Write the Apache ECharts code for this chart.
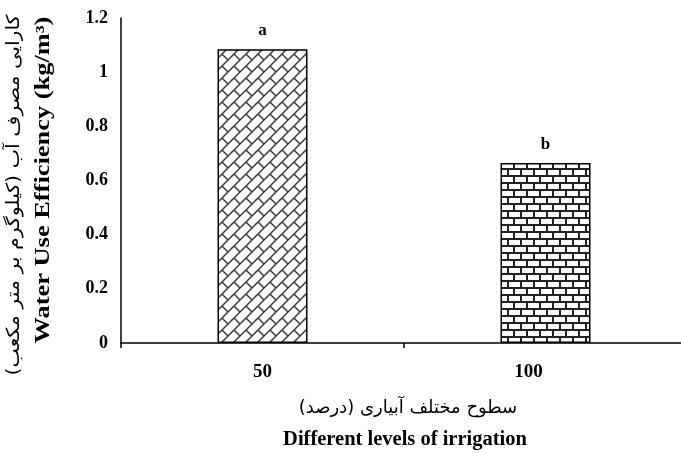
<!DOCTYPE html>
<html><head><meta charset="utf-8">
<script src="https://cdn.jsdelivr.net/npm/echarts@6/dist/echarts.min.js"></script>
<style>html,body{margin:0;padding:0;background:#fff}#c{width:681px;height:454px}</style>
</head><body><div id="c"></div>
<script>
const categories = ['50', '100'];
const values = [1.085, 0.665];
const letters = ['a', 'b'];
const yTicks = [0, 0.2, 0.4, 0.6, 0.8, 1, 1.2];
const xTitleFa = 'سطوح مختلف آبیاری (درصد)';
const xTitleEn = 'Different levels of irrigation';
const yTitleFa = 'کارایی مصرف آب (کیلوگرم بر متر مکعب)';
const yTitleEn = 'Water Use Efficiency (kg/m³)';

function diagBrick() {
  const s = 12, c = document.createElement('canvas');
  c.width = s; c.height = s;
  const g = c.getContext('2d');
  g.fillStyle = '#fff'; g.fillRect(0, 0, s, s);
  g.strokeStyle = '#3a3a3a'; g.lineWidth = 1.5;
  g.beginPath();
  g.moveTo(-2, s + 2); g.lineTo(s + 2, -2);
  g.moveTo(s / 2, s / 2); g.lineTo(s + 2, s + 2);
  g.moveTo(-2, -2); g.lineTo(0.5, 0.5);
  g.stroke();
  return c;
}
function hBrick() {
  const w = 13, h = 14, c = document.createElement('canvas');
  c.width = w; c.height = h;
  const g = c.getContext('2d');
  g.fillStyle = '#fff'; g.fillRect(0, 0, w, h);
  g.fillStyle = '#222';
  g.fillRect(0, 0, w, 2);
  g.fillRect(0, 7, w, 2);
  g.fillRect(0, 0, 2, 7);
  g.fillRect(6, 7, 2, 7);
  return c;
}
const patterns = [diagBrick(), hBrick()];

const chart = echarts.init(document.getElementById('c'));
const serif = "'Liberation Serif', 'Times New Roman', serif";
const fa = "'DejaVu Sans', sans-serif";
chart.setOption({
  animation: false,
  grid: { left: 121, top: 18, width: 566, height: 325, outerBoundsMode: 'none', containLabel: false },
  xAxis: {
    type: 'category', data: categories,
    axisLine: { lineStyle: { color: '#000', width: 1.5 } },
    axisTick: { show: true, length: 5, lineStyle: { color: '#000', width: 1.5 } },
    axisLabel: {
      color: '#000', fontFamily: serif, fontWeight: 'bold', fontSize: 19, margin: 20,
      formatter: v => (v === categories[1] ? '{s|' + v + '}' : '{n|' + v + '}'),
      rich: {
        n: { fontFamily: serif, fontWeight: 'bold', fontSize: 19, color: '#000' },
        s: { fontFamily: serif, fontWeight: 'bold', fontSize: 19, color: '#000', padding: [0, 34, 0, 0] }
      }
    }
  },
  yAxis: {
    type: 'value', min: 0, max: 1.2, interval: 0.2,
    splitLine: { show: false },
    axisLine: { show: true, lineStyle: { color: '#000', width: 1.5 } },
    axisTick: { show: false },
    axisLabel: { color: '#000', fontFamily: serif, fontWeight: 'bold', fontSize: 18, margin: 13,
      formatter: v => String(Math.round(v * 10) / 10) }
  },
  series: [{
    type: 'bar', barWidth: 90,
    data: values.map((v, i) => ({
      value: v,
      itemStyle: { color: { image: patterns[i], repeat: 'repeat' }, borderColor: '#000', borderWidth: 1.5 },
      label: { formatter: letters[i] }
    })),
    label: { show: true, position: 'top', distance: 10, color: '#000', fontFamily: serif, fontWeight: 'bold', fontSize: 17 }
  }],
  graphic: [
    { type: 'text', x: 408, y: 408, style: { text: xTitleFa, font: '18px ' + fa, fill: '#000', align: 'center', verticalAlign: 'middle' } },
    { type: 'text', x: 405, y: 440, style: { text: xTitleEn, font: 'bold 20.5px ' + serif, fill: '#000', align: 'center', verticalAlign: 'middle' } },
    { type: 'text', x: 14, y: 195, rotation: Math.PI / 2, scaleX: 1.14, style: { text: yTitleFa, font: '18px ' + fa, fill: '#000', align: 'center', verticalAlign: 'middle' } },
    { type: 'text', x: 44, y: 180, rotation: Math.PI / 2, scaleX: 1.32, style: { text: yTitleEn, font: 'bold 20px ' + serif, fill: '#000', align: 'center', verticalAlign: 'middle' } }
  ]
});
</script></body></html>
